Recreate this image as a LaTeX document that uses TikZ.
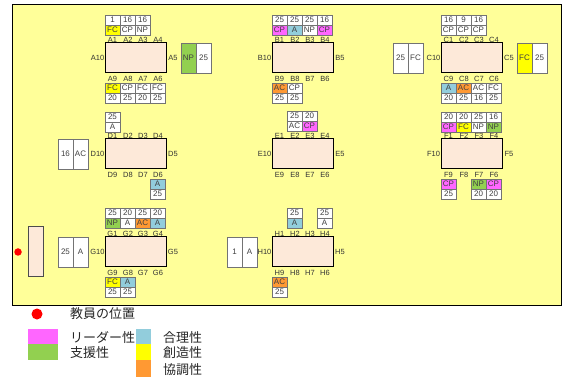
\documentclass[tikz,border=0pt]{standalone}
\usepackage{fontspec}
\setmainfont{Liberation Sans}
\newfontfamily\jpfont{Noto Sans CJK JP}
\usetikzlibrary{positioning}
\definecolor{roomyellow}{HTML}{FFFF99}
\definecolor{tablepeach}{HTML}{FDE9D9}
\definecolor{leadpink}{HTML}{FF66FF}
\definecolor{helpgreen}{HTML}{92D050}
\definecolor{logicblue}{HTML}{92CDDC}
\definecolor{ideayellow}{HTML}{FFFF00}
\definecolor{teamorange}{HTML}{FF9933}
\tikzset{
    deskbox/.style={draw=black,line width=1pt,fill=tablepeach,minimum width=61pt,minimum height=30pt,inner sep=0pt},
    seatcell/.style={draw=black!55,fill=white,line width=0.6pt,minimum width=15.2pt,minimum height=10pt,inner sep=0pt,font=\fontsize{8}{8}\selectfont,text=black!75},
    sidecell/.style={seatcell,minimum height=30pt},
    seatlabel/.style={inner sep=0pt,font=\fontsize{7.5}{7.5}\selectfont,text=black!80},
    legendbox/.style={fill=#1,minimum width=30pt,minimum height=15.5pt,inner sep=0pt},
    legendtext/.style={inner sep=0pt,anchor=west,font=\jpfont\fontsize{13}{13}\selectfont,text=black!85}
}
% one table with its ten seat labels, #2/#3 is the upper left corner
\newcommand{\tablegroup}[3]{
    \node[deskbox] (#1) at (#2+30.5,#3+15) {};
    \foreach \num/\dx in {1/7.5,2/23,3/38,4/53}
        \node[seatlabel] (#1\num) at (#2+\dx,#3-3) {#1\num};
    \foreach \num/\dx in {9/7.5,8/23,7/38,6/53}
        \node[seatlabel] (#1\num) at (#2+\dx,#3+36) {#1\num};
    \node[seatlabel] (#110) at (#2-7.5,#3+15) {#110};
    \node[seatlabel] (#15) at (#2+68,#3+15) {#15};
}
\begin{document}
\begin{tikzpicture}[x=1pt,y=-1pt]
    \useasboundingbox (0,0) rectangle (562,379);
    \node[draw=black,line width=1pt,fill=roomyellow,minimum width=549pt,minimum height=300pt,inner sep=0pt] (room) at (286.5,155) {};
    \node[draw=black!70,line width=1pt,fill=tablepeach,minimum width=15pt,minimum height=50pt,inner sep=0pt] (teacherdesk) at (35.5,252) {};
    \node[circle,fill=red,minimum size=7.5pt,inner sep=0pt] (teacher) at (18,252) {};
    % tables
    \tablegroup{A}{105}{43}
    \tablegroup{B}{272}{43}
    \tablegroup{C}{441}{43}
    \tablegroup{D}{105}{139}
    \tablegroup{E}{272}{139}
    \tablegroup{F}{441}{139}
    \tablegroup{G}{105}{237}
    \tablegroup{H}{272}{237}
    % seats above a table: number on top
    \foreach \nm/\x/\y/\val/\code/\col in {
        a1/105/15/1/FC/ideayellow,a2/120/15/16/CP/white,a3/135/15/16/NP/white,
        b1/272/15/25/CP/leadpink,b2/287/15/25/A/logicblue,b3/302/15/25/NP/white,b4/317/15/16/CP/leadpink,
        c1/441/15/16/CP/white,c2/456/15/9/CP/white,c3/471/15/16/CP/white,
        d1/105/112/25/A/white,
        e2/287/111/25/AC/white,e3/302/111/20/CP/leadpink,
        f1/441/112/20/CP/leadpink,f2/456/112/20/FC/ideayellow,f3/471/112/25/NP/white,f4/486/112/16/NP/helpgreen,
        g1/105/208/25/NP/helpgreen,g2/120/208/20/A/white,g3/135/208/25/AC/teamorange,g4/150/208/20/A/logicblue,
        h2/287/208/25/A/logicblue,h4/317/208/25/A/white%
    }{
        \node[seatcell] (\nm v) at (\x+7.5,\y+5) {\val};
        \node[seatcell,fill=\col] (\nm c) at (\x+7.5,\y+15) {\code};
    }
    % seats below a table: code on top
    \foreach \nm/\x/\y/\val/\code/\col in {
        a9/105/83/20/FC/ideayellow,a8/120/83/25/CP/white,a7/135/83/20/FC/white,a6/150/83/25/FC/white,
        b9/272/83/25/AC/teamorange,b8/287/83/25/CP/white,
        c9/441/83/20/A/logicblue,c8/456/83/25/AC/teamorange,c7/471/83/16/AC/white,c6/486/83/25/FC/white,
        d6/150/179/25/A/logicblue,
        f9/441/179/25/CP/leadpink,f7/471/179/20/NP/helpgreen,f6/486/179/20/CP/leadpink,
        g9/105/277/25/FC/ideayellow,g8/120/277/25/A/logicblue,
        h9/272/277/25/AC/teamorange%
    }{
        \node[seatcell,fill=\col] (\nm c) at (\x+7.5,\y+5) {\code};
        \node[seatcell] (\nm v) at (\x+7.5,\y+15) {\val};
    }
    % seats at the ends, left text / right text
    \foreach \nm/\x/\y/\ltxt/\rtxt/\lcol in {
        a5/181/43/NP/25/helpgreen,
        c5/517/43/FC/25/ideayellow,
        c10/393/43/25/FC/white,
        d10/58/139/16/AC/white,
        g10/58/237/25/A/white,
        h10/227/237/1/A/white%
    }{
        \node[sidecell,fill=\lcol] (\nm l) at (\x+7.5,\y+15) {\ltxt};
        \node[sidecell] (\nm r) at (\x+22.5,\y+15) {\rtxt};
    }
    % legend
    \node[circle,fill=red,minimum size=11pt,inner sep=0pt] (teacherkey) at (37,314) {};
    \node[legendtext] (teachertext) at (70,314) {教員の位置};
    \node[legendbox=leadpink] (leadkey) at (43,336.5) {};
    \node[legendbox=helpgreen] (helpkey) at (43,352) {};
    \node[legendbox=logicblue,minimum width=15pt] (logickey) at (143.5,336.5) {};
    \node[legendbox=ideayellow,minimum width=15pt] (ideakey) at (143.5,352) {};
    \node[legendbox=teamorange,minimum width=15pt,minimum height=17pt] (teamkey) at (143.5,368) {};
    \node[legendtext] (leadtext) at (70,338) {リーダー性};
    \node[legendtext] (helptext) at (70,353) {支援性};
    \node[legendtext] (logictext) at (163,338) {合理性};
    \node[legendtext] (ideatext) at (163,353) {創造性};
    \node[legendtext] (teamtext) at (163,370) {協調性};
\end{tikzpicture}
\end{document}
